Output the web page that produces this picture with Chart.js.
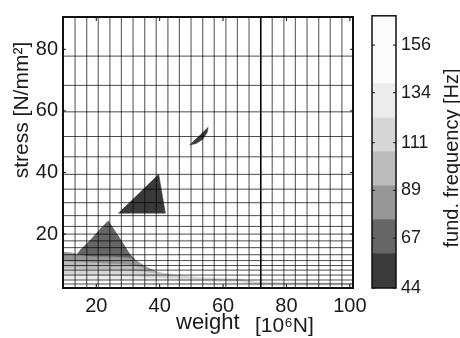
<!DOCTYPE html>
<html>
<head>
<meta charset="utf-8">
<script src="https://cdn.jsdelivr.net/npm/chart.js@4.4.1/dist/chart.umd.min.js"></script>
<style>
    html, body { margin: 0; padding: 0; background: #fff; }
    #wrap { position: relative; width: 460px; height: 338px; overflow: hidden; }
    #mainChart { position: absolute; left: 0; top: 0; }
    #barChart { position: absolute; left: 330px; top: 0; }
</style>
</head>
<body>
<div id="wrap">
    <canvas id="mainChart" width="460" height="338"></canvas>
    <canvas id="barChart" width="130" height="338"></canvas>
</div>
<script>
// tick labels
const weightTicks = [20, 40, 60, 80, 100];
const stressTicks = [20, 40, 60, 80];
const freqTicks = [44, 67, 89, 111, 134, 156];

// mesh lines of the computed grid
const meshWeight = [13.3, 17.0, 20.6, 24.3, 27.9, 31.6, 35.3, 38.9, 42.6, 46.2, 49.9, 53.6,
    57.2, 60.9, 64.5, 68.2, 71.9, 75.5, 79.2, 82.8, 86.5, 90.2, 93.8, 97.5];
const meshStress = [77.8, 68.3, 59.7, 51.7, 45.1, 39.4, 34.6, 30.2, 26.0, 22.5, 20.0, 17.8,
    15.6, 13.3, 11.4, 9.8, 8.3, 6.7, 5.1, 3.8];

// contour levels of the colour bar [Hz]
const freqLevels = [44, 59.7, 75.4, 91.1, 106.8, 122.5, 138.1, 153.8, 169.5];

// upper edge of each filled level near the bottom (stress per weight)
const bandWeight = [9.5, 12, 15, 18, 21, 23.8, 27, 30.8, 33, 36, 40, 45, 50, 55, 60, 65, 70, 80, 90, 101];
const band1Top = [8, 11, 15, 18, 21.5, 24.4, 19.5, 13.3, 11, 9, 7.3, 6.3, 5.7, 5.2, 4.8, 4.4, 4, 3.7, 3.5, 3.4];
const band2Top = [14.3, 14, 13.3, 12.8, 12.7, 12.7, 12.6, 12.3, 11.2, 9.3, 7.4, 6.4, 5.8, 5.3, 4.9, 4.5, 4.1, 3.8, 3.6, 3.5];
const band3Top = [11.5, 11.2, 11, 10.8, 10.6, 10.4, 10.3, 10, 9.6, 8.6, 7.6, 6.7, 6.1, 5.6, 5.2, 4.8, 4.3, 4, 3.8, 3.7];
const band4Top = [9, 8.9, 8.8, 8.7, 8.6, 8.5, 8.4, 8.2, 8, 7.6, 7.1, 6.6, 6.2, 5.9, 5.7, 5.5, 4.6, 4.4, 4.3, 4.2];
const band5Top = [7, 6.9, 6.8, 6.7, 6.6, 6.5, 6.4, 6.3, 6.2, 6, 5.8, 5.6, 5.4, 5.2, 5, 4.8, 3.9, 3.8, 3.7, 3.6];
const band6Top = [5.5, 5.5, 5.4, 5.4, 5.3, 5.3, 5.2, 5.2, 5.1, 5.1, 5, 4.9, 4.8, 4.6, 4.4, 4.1, 3.3, 3.2, 3.2, 3.2];

// lowest level islands
const bigPatchWeight = [27, 39.7, 40.6, 41.8, 27];
const bigPatchStress = [26.8, 39.4, 34, 26.8, 26.8];
const smallPatchWeight = [49.5, 51.5, 53.5, 55, 55.3, 54, 52.2, 50.5, 49.5];
const smallPatchStress = [48.9, 49.4, 50.7, 53, 54.7, 53.4, 51.6, 50, 48.9];

const grays = ['#3a3a3a', '#666666', '#979797', '#bcbcbc', '#d7d7d7', '#ececec', '#fbfbfb', '#fbfbfb'];
const FONT = 'Liberation Sans, Arial, sans-serif';
const TEXT = '#1a1a1a';
const MESH = 'rgba(0, 0, 0, 0.7)';

/* axis frame + small inward ticks
---------------------------------*/
const framePlugin = {
    id: 'frame',
    afterDatasetsDraw(chart, args, opts) {
        const { ctx, chartArea: a } = chart;
        ctx.save();
        ctx.strokeStyle = '#111';
        ctx.lineWidth = opts.width;
        ctx.strokeRect(a.left, a.top, a.right - a.left, a.bottom - a.top);
        ctx.lineWidth = 1;
        Object.values(chart.scales).forEach((scale) => {
            if (!scale.options.display) return;
            scale.ticks.forEach((t) => {
                const p = scale.getPixelForValue(t.value);
                ctx.beginPath();
                if (scale.isHorizontal()) {
                    ctx.moveTo(p, a.bottom); ctx.lineTo(p, a.bottom - 4);
                    ctx.moveTo(p, a.top); ctx.lineTo(p, a.top + 4);
                } else {
                    ctx.moveTo(a.left, p); ctx.lineTo(a.left + 3, p);
                    ctx.moveTo(a.right, p); ctx.lineTo(a.right - 3, p);
                }
                ctx.stroke();
            });
        });
        ctx.restore();
    },
};

const labelPlugin = {
    id: 'labels',
    afterDraw(chart, args, opts) {
        const ctx = chart.ctx;
        opts.items.forEach((it) => {
            ctx.save();
            ctx.font = it.font;
            ctx.fillStyle = TEXT;
            ctx.textAlign = it.align;
            ctx.textBaseline = 'middle';
            ctx.translate(it.x, it.y);
            ctx.rotate(it.rotate);
            ctx.fillText(it.text, 0, 0);
            ctx.restore();
        });
    },
};

function pts(xs, ys) {
    return xs.map((x, i) => ({ x: x, y: ys[i] }));
}

// 차트 데이터
const xMin = 9.5, xMax = 101, yMin = 2.5, yMax = 90.5;
const datasets = [];

meshWeight.forEach((w) => {
    datasets.push({
        data: [{ x: w, y: yMin }, { x: w, y: yMax }],
        borderColor: w === 71.9 ? '#000' : MESH,
        borderWidth: w === 71.9 ? 1.6 : 1,
        order: 0,
    });
});
meshStress.forEach((s) => {
    datasets.push({
        data: [{ x: xMin, y: s }, { x: xMax, y: s }],
        borderColor: MESH,
        borderWidth: 1,
        order: 0,
    });
});

[[bigPatchWeight, bigPatchStress], [smallPatchWeight, smallPatchStress]].forEach((p) => {
    datasets.push({
        data: pts(p[0], p[1]),
        backgroundColor: grays[0],
        borderColor: grays[0],
        borderWidth: 0.5,
        fill: 'shape',
        order: 1,
    });
});

const bandTops = [band1Top, band2Top, band3Top, band4Top, band5Top, band6Top];
bandTops.forEach((top, i) => {
    datasets.push({
        data: pts(bandWeight, top),
        backgroundColor: grays[i + 1],
        borderWidth: 0,
        fill: 'start',
        order: 10 - i,
    });
});

new Chart(document.getElementById('mainChart'), {
    type: 'scatter',
    data: { datasets: datasets },
    options: {
        responsive: false,
        animation: false,
        showLine: true,
        elements: { point: { radius: 0 }, line: { tension: 0 } },
        layout: { padding: { left: 0, top: 11, right: 107, bottom: 0 } },
        plugins: {
            legend: { display: false },
            tooltip: { enabled: false },
            frame: { width: 2 },
            labels: {
                items: [
                    { text: 'weight', x: 176, y: 323, align: 'left', rotate: 0, font: '22px ' + FONT },
                    { text: '[10⁶N]', x: 255, y: 326, align: 'left', rotate: 0, font: '21px ' + FONT },
                    { text: 'stress [N/mm²]', x: 22, y: 110, align: 'center', rotate: -Math.PI / 2, font: '21px ' + FONT },
                ],
            },
        },
        scales: {
            x: {
                type: 'linear',
                min: xMin,
                max: xMax,
                grid: { display: false, drawTicks: false },
                border: { display: false },
                afterBuildTicks: (s) => { s.ticks = weightTicks.map((v) => ({ value: v })); },
                afterFit: (s) => { s.height = 50; },
                ticks: { font: { family: FONT, size: 20 }, color: TEXT, padding: 6, maxRotation: 0 },
            },
            y: {
                type: 'linear',
                min: yMin,
                max: yMax,
                grid: { display: false, drawTicks: false },
                border: { display: false },
                afterBuildTicks: (s) => { s.ticks = stressTicks.map((v) => ({ value: v })); },
                afterFit: (s) => { s.width = 63; },
                ticks: { font: { family: FONT, size: 20 }, color: TEXT, padding: 5 },
            },
        },
    },
    plugins: [framePlugin, labelPlugin],
});

// 컬러바
new Chart(document.getElementById('barChart'), {
    type: 'bar',
    data: {
        labels: [''],
        datasets: grays.map((c, i) => ({
            data: [[freqLevels[i], freqLevels[i + 1]]],
            backgroundColor: c,
            borderWidth: 0,
            grouped: false,
            barPercentage: 1,
            categoryPercentage: 1,
        })),
    },
    options: {
        responsive: false,
        animation: false,
        layout: { padding: { left: 42, top: 12, right: 0, bottom: 50 } },
        plugins: {
            legend: { display: false },
            tooltip: { enabled: false },
            frame: { width: 1.5 },
            labels: {
                items: [
                    { text: 'fund. frequency [Hz]', x: 122, y: 158, align: 'center', rotate: -Math.PI / 2, font: '20px ' + FONT },
                ],
            },
        },
        scales: {
            x: { display: false },
            y: {
                position: 'right',
                min: freqLevels[0],
                max: freqLevels[freqLevels.length - 1],
                grid: { display: false, drawTicks: false },
                border: { display: false },
                afterBuildTicks: (s) => { s.ticks = freqTicks.map((v) => ({ value: v })); },
                afterFit: (s) => { s.width = 64; },
                ticks: { font: { family: FONT, size: 18 }, color: TEXT, padding: 5 },
            },
        },
    },
    plugins: [framePlugin, labelPlugin],
});
</script>
</body>
</html>
